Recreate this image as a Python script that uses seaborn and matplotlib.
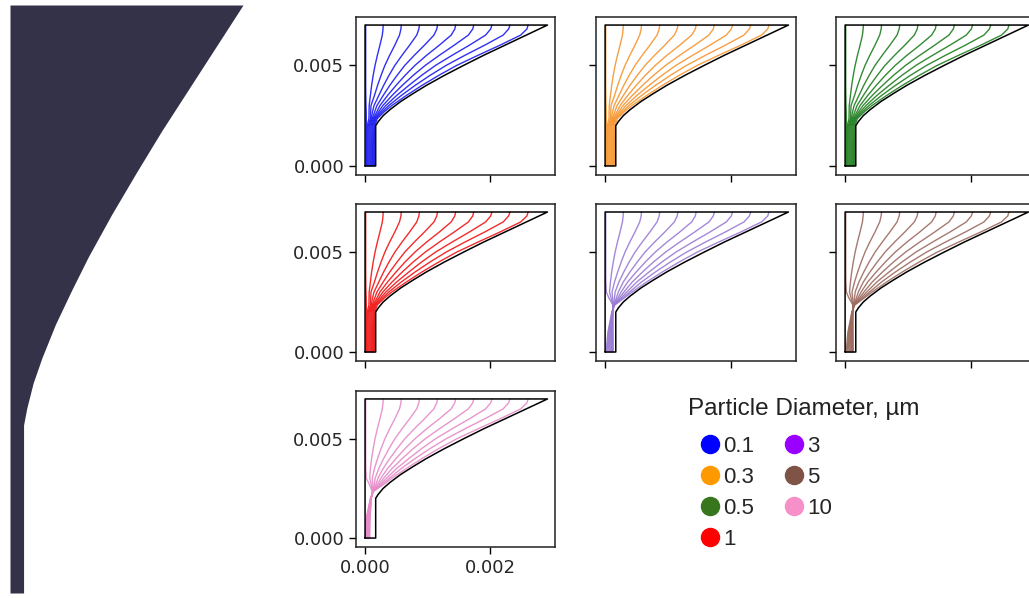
import matplotlib
matplotlib.use("Agg")
import matplotlib.pyplot as plt
from matplotlib.lines import Line2D
import numpy as np
import pandas as pd
import seaborn as sns

# ---------------------------------------------------------------------------
# Data (lengths in micrometres)
# ---------------------------------------------------------------------------
diameters = ["0.1", "0.3", "0.5", "1", "3", "5", "10"]
line_colors = ["#1a1af0", "#f5952e", "#1e7d1e", "#f01414", "#9a7bd4", "#9c6b60", "#e58bc8"]
legend_colors = ["#0000ff", "#ff9900", "#38761d", "#ff0000", "#9900ff", "#7f5447", "#f78fc8"]
family = ["fine", "fine", "fine", "fine", "mid", "mid", "coarse"]

# nozzle wall profile
wall_y = [0, 2000, 2200, 2500, 2800, 3200, 3600, 4000, 4500, 5000, 5500, 6000, 6500, 7000]
wall_x = [170, 170, 210, 290, 400, 570, 770, 980, 1270, 1580, 1900, 2240, 2580, 2920]

# trajectories, upper part (shared by every diameter)
upper_y = [7000, 6800, 6500, 6000, 5500, 5000, 4500, 4000, 3500]
upper_x = [
    [10, 10, 10, 10, 10, 10, 10, 10, 12],
    [290, 287, 276, 238, 197, 160, 130, 105, 85],
    [580, 574, 551, 476, 394, 318, 256, 200, 150],
    [870, 861, 827, 713, 592, 478, 383, 297, 220],
    [1160, 1148, 1102, 951, 789, 637, 512, 395, 290],
    [1450, 1436, 1378, 1189, 986, 800, 640, 495, 360],
    [1740, 1723, 1653, 1427, 1190, 965, 770, 595, 432],
    [2030, 2010, 1929, 1670, 1395, 1130, 905, 700, 505],
    [2320, 2297, 2210, 1915, 1600, 1300, 1040, 800, 580],
    [2610, 2590, 2490, 2160, 1810, 1470, 1180, 910, 660],
]

# trajectories, lower part (throat region), one table per particle size group
lower_y = [3000, 2700, 2350, 2000, 1000, 0]
lower_fine = [
    [15, 18, 20, 20, 20, 20],
    [66, 64, 62, 35, 33, 33],
    [95, 90, 85, 50, 47, 47],
    [143, 120, 100, 65, 62, 62],
    [190, 155, 115, 80, 77, 77],
    [238, 190, 130, 95, 92, 92],
    [285, 220, 145, 110, 107, 107],
    [333, 250, 160, 125, 122, 122],
    [380, 280, 175, 140, 137, 137],
    [428, 310, 195, 155, 152, 152],
]
lower_mid = [
    [20, 60, 125, 122, 127, 130],
    [70, 95, 128, 122, 120, 120],
    [110, 120, 131, 121, 113, 110],
    [160, 150, 134, 120, 106, 100],
    [210, 180, 137, 118, 98, 90],
    [255, 205, 140, 116, 88, 75],
    [300, 230, 143, 114, 78, 60],
    [345, 255, 146, 112, 66, 45],
    [390, 280, 149, 110, 55, 30],
    [430, 305, 152, 108, 45, 15],
]
lower_coarse = [
    [20, 70, 115, 100, 80, 75],
    [75, 100, 118, 100, 75, 65],
    [115, 125, 121, 99, 70, 58],
    [160, 150, 123, 98, 65, 50],
    [205, 175, 125, 96, 58, 42],
    [250, 200, 127, 94, 50, 33],
    [295, 225, 129, 92, 42, 24],
    [340, 250, 131, 90, 34, 16],
    [385, 275, 133, 88, 26, 8],
    [425, 300, 135, 86, 18, 2],
]
lower_tables = {"fine": lower_fine, "mid": lower_mid, "coarse": lower_coarse}

UM = 1e-6
W, H = 1029, 598


def box(x0, y0, x1, y1):
    # pixel box (top-left origin) -> figure fraction rect
    return [x0 / W, 1 - y1 / H, (x1 - x0) / W, (y1 - y0) / H]


def traj_frame(lower):
    rows = []
    for i, (up, lo) in enumerate(zip(upper_x, lower)):
        for xv, yv in zip(up + lo, upper_y + lower_y):
            rows.append({"x": xv * UM, "y": yv * UM, "line": i})
    return pd.DataFrame(rows)


def wall_outline():
    xs = [0, 0] + wall_x[::-1] + [0]
    ys = [0, 7000] + wall_y[::-1] + [0]
    return np.array(xs) * UM, np.array(ys) * UM


sns.set_style("ticks")
plt.rcParams["font.family"] = ["DejaVu Sans"]

fig = plt.figure(figsize=(W / 100, H / 100), dpi=100)

# left: solid nozzle silhouette
ax0 = fig.add_axes(box(10, 5, 243, 593))
ax0.fill_betweenx(np.array(wall_y) * UM, 0, np.array(wall_x) * UM,
                  color="#343249", lw=0)
ax0.set_xlim(0, wall_x[-1] * UM)
ax0.set_ylim(0, wall_y[-1] * UM)
ax0.axis("off")

col_x = [(356, 555), (596, 796), (836, 1036)]
row_y = [(17, 175), (204, 361), (391, 547)]
wx, wy = wall_outline()

for k, (d, c, fam) in enumerate(zip(diameters, line_colors, family)):
    r, cidx = divmod(k, 3)
    x0, x1 = col_x[cidx]
    y0, y1 = row_y[r]
    ax = fig.add_axes(box(x0, y0, x1, y1))
    df = traj_frame(lower_tables[fam])
    sns.lineplot(data=df, x="x", y="y", units="line", estimator=None,
                 sort=False, color=c, lw=1.0, alpha=0.9, ax=ax)
    ax.plot(wx, wy, color="black", lw=1.1)
    ax.set_xlim(-0.000145, 0.00304)
    ax.set_ylim(-0.00045, 0.0074)
    ax.set_xticks([0, 0.002])
    ax.set_yticks([0, 0.005])
    ax.set(xlabel="", ylabel="")
    ax.tick_params(labelsize=13, length=5, width=1, color="black")
    for s in ax.spines.values():
        s.set_linewidth(1.1)
        s.set_color("#222222")
    if cidx == 0:
        ax.set_yticklabels(["0.000", "0.005"])
    else:
        ax.set_yticklabels([])
    if k == 6:
        ax.set_xticklabels(["0.000", "0.002"])
    else:
        ax.set_xticklabels([])

# legend: title as separate text so the entries can sit indented below it
fig.text(688 / W, 1 - 409 / H, "Particle Diameter, µm", ha="left", va="center",
         family="Liberation Sans", fontsize=17.5, color="#222222")
handles = [Line2D([], [], ls="", marker="o", markersize=13, color=c,
                  markeredgecolor=c) for c in legend_colors]
leg = fig.legend(handles, diameters, ncol=2, loc="upper left",
                 bbox_to_anchor=(684.5 / W, 1 - 420 / H), frameon=False,
                 handletextpad=0.15, columnspacing=1.32, labelspacing=0.45,
                 handlelength=0.9, borderpad=0.2,
                 prop={"family": "Liberation Sans", "size": 16})

fig.savefig("out.png", dpi=100)
